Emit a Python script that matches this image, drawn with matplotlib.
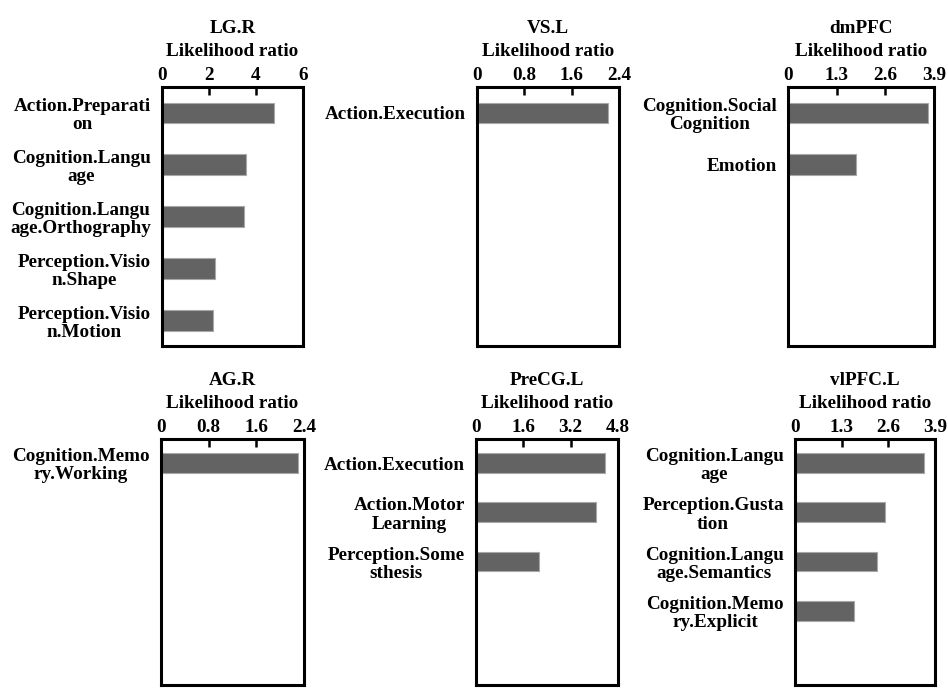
import matplotlib
matplotlib.use("Agg")
import matplotlib.pyplot as plt

plt.rcParams['font.family'] = ['Liberation Serif', 'DejaVu Serif']
plt.rcParams['font.weight'] = 'bold'

# Regions and their functional-decoding terms (likelihood ratios)
regions = ['LG.R', 'VS.L', 'dmPFC', 'AG.R', 'PreCG.L', 'vlPFC.L']

lg_r_terms = ['Action.Preparati\non', 'Cognition.Langu\nage',
              'Cognition.Langu\nage.Orthography', 'Perception.Visio\nn.Shape',
              'Perception.Visio\nn.Motion']
lg_r_vals = [4.77, 3.56, 3.47, 2.26, 2.17]

vs_l_terms = ['Action.Execution']
vs_l_vals = [2.21]

dmpfc_terms = ['Cognition.Social\nCognition', 'Emotion']
dmpfc_vals = [3.75, 1.81]

ag_r_terms = ['Cognition.Memo\nry.Working']
ag_r_vals = [2.30]

precg_l_terms = ['Action.Execution', 'Action.Motor\nLearning',
                 'Perception.Some\nsthesis']
precg_l_vals = [4.37, 4.05, 2.12]

vlpfc_l_terms = ['Cognition.Langu\nage', 'Perception.Gusta\ntion',
                 'Cognition.Langu\nage.Semantics', 'Cognition.Memo\nry.Explicit']
vlpfc_l_vals = [3.59, 2.52, 2.28, 1.63]

x_ticks = [[0, 2, 4, 6], [0, 0.8, 1.6, 2.4], [0, 1.3, 2.6, 3.9],
           [0, 0.8, 1.6, 2.4], [0, 1.6, 3.2, 4.8], [0, 1.3, 2.6, 3.9]]
x_ticklabels = [['0', '2', '4', '6'], ['0', '0.8', '1.6', '2.4'],
                ['0', '1.3', '2.6', '3.9'], ['0', '0.8', '1.6', '2.4'],
                ['0', '1.6', '3.2', '4.8'], ['0', '1.3', '2.6', '3.9']]

terms = [lg_r_terms, vs_l_terms, dmpfc_terms, ag_r_terms, precg_l_terms, vlpfc_l_terms]
values = [lg_r_vals, vs_l_vals, dmpfc_vals, ag_r_vals, precg_l_vals, vlpfc_l_vals]

W, H = 948, 688
fig = plt.figure(figsize=(W / 100, H / 100), dpi=100)

# axes boxes in pixels: left, right, top, bottom
boxes = [(162, 303, 87, 346.5), (477, 619, 87, 346.5), (788, 934, 87, 346.5),
         (161, 304, 438.5, 684.5), (476, 618, 438.5, 684.5), (795, 935, 438.5, 684.5)]

fs = 13.8
for k, name in enumerate(regions):
    l, r, t, b = boxes[k]
    ax = fig.add_axes([l / W, 1 - b / H, (r - l) / W, (b - t) / H])
    n = len(values[k])
    ax.barh(range(n), values[k], height=0.4, color='#636363',
            edgecolor='#a8a8a8', linewidth=0.8)
    ax.set_ylim(4.5, -0.5)
    ax.set_xlim(x_ticks[k][0], x_ticks[k][-1])
    ax.set_yticks(range(n))
    ax.set_yticklabels(terms[k], fontsize=fs, fontweight='bold',
                       linespacing=1.1, multialignment='center')
    ax.tick_params(axis='y', length=0, pad=8)
    ax.xaxis.tick_top()
    ax.set_xticks(x_ticks[k])
    ax.set_xticklabels(x_ticklabels[k], fontsize=fs, fontweight='bold')
    ax.tick_params(axis='x', direction='in', length=6, width=1.8, pad=2)
    for s in ax.spines.values():
        s.set_linewidth(2.2)
    ax.annotate('Likelihood ratio', xy=(0.5, 1), xycoords='axes fraction',
                xytext=(0, 31 * 0.72), textcoords='offset points',
                ha='center', va='baseline', fontsize=fs, fontweight='bold')
    ax.annotate(name, xy=(0.5, 1), xycoords='axes fraction',
                xytext=(0, 54 * 0.72), textcoords='offset points',
                ha='center', va='baseline', fontsize=fs, fontweight='bold')

fig.savefig('out.png', dpi=100)
